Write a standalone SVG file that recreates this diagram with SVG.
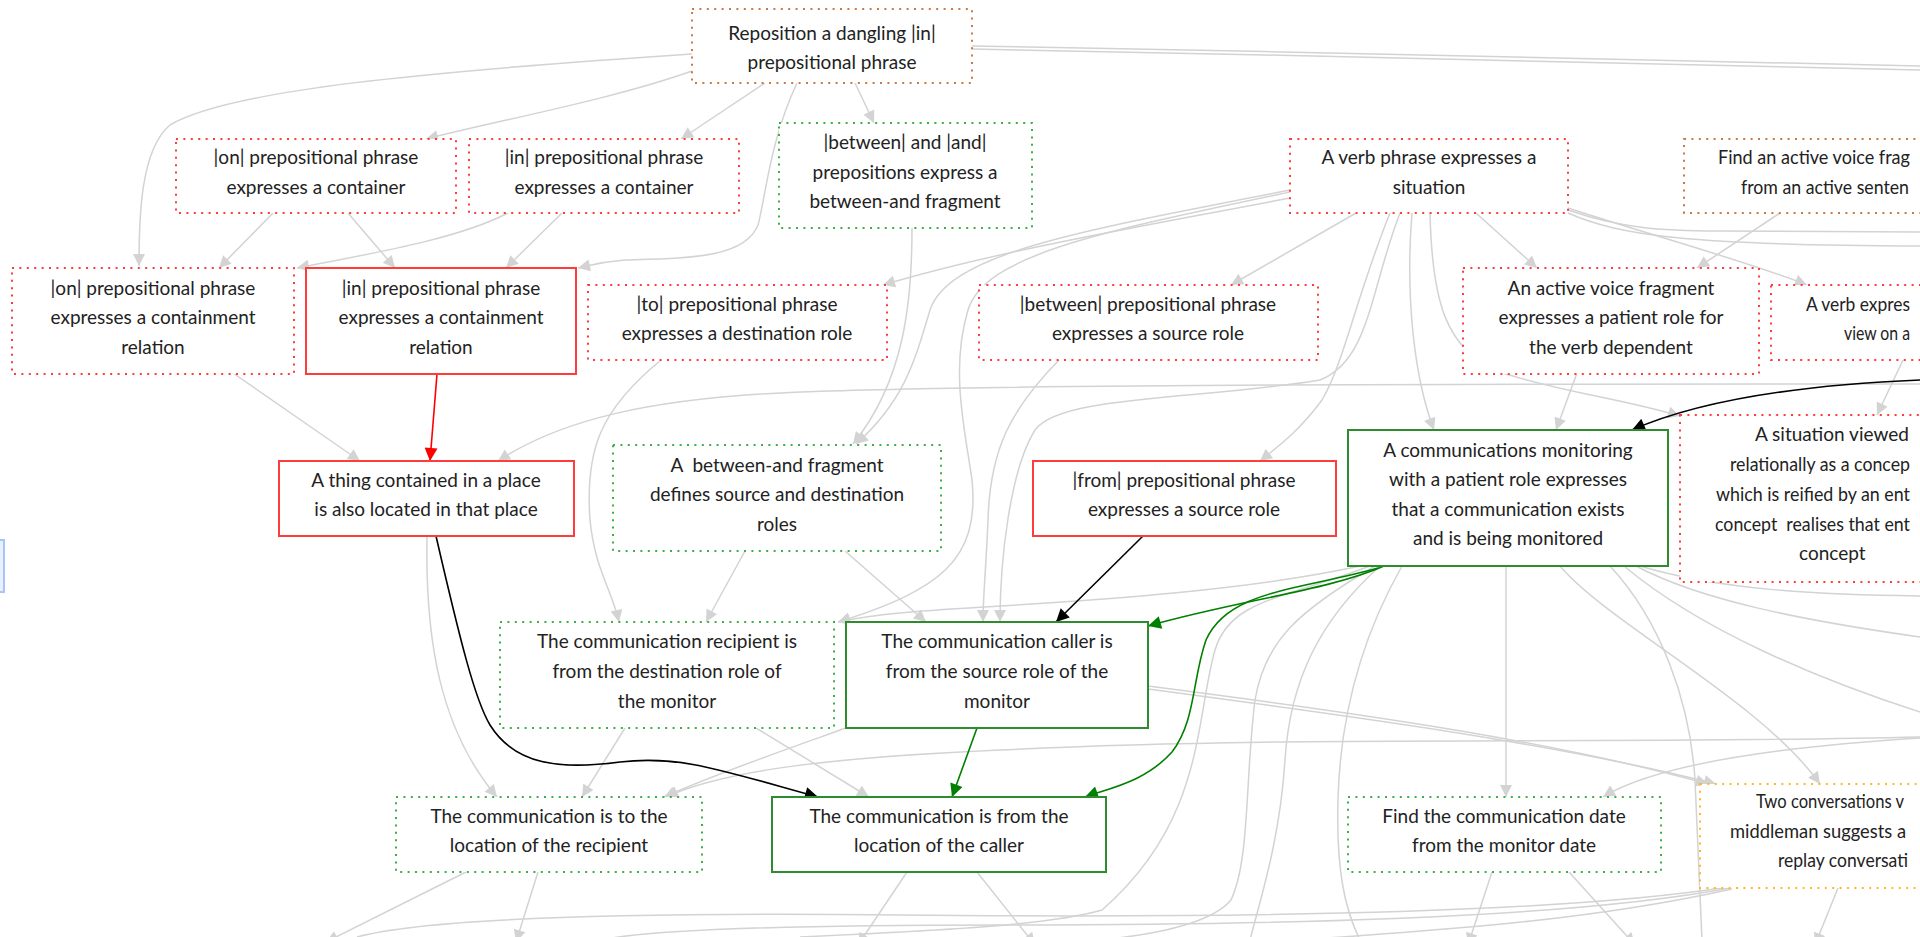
<svg xmlns="http://www.w3.org/2000/svg" width="1920" height="937" viewBox="0 0 1920 937">
  <defs>
    <marker id="ag" viewBox="0 0 10 10" refX="10" refY="5" markerUnits="userSpaceOnUse" markerWidth="17" markerHeight="12" orient="auto"><path d="M0,0 L10,5 L0,10 z" fill="#d3d3d3"/></marker>
    <marker id="ar" viewBox="0 0 10 10" refX="10" refY="5" markerUnits="userSpaceOnUse" markerWidth="18" markerHeight="13" orient="auto"><path d="M0,0 L10,5 L0,10 z" fill="#ff0000"/></marker>
    <marker id="ab" viewBox="0 0 10 10" refX="10" refY="5" markerUnits="userSpaceOnUse" markerWidth="18" markerHeight="13" orient="auto"><path d="M0,0 L10,5 L0,10 z" fill="#000000"/></marker>
    <marker id="agr" viewBox="0 0 10 10" refX="10" refY="5" markerUnits="userSpaceOnUse" markerWidth="18" markerHeight="13" orient="auto"><path d="M0,0 L10,5 L0,10 z" fill="#008000"/></marker>
    <style>
      .e { fill: none; stroke: #d3d3d3; stroke-width: 1.5; }
      .ea { marker-end: url(#ag); }
      .red { fill: none; stroke: #ff0000; stroke-width: 1.6; marker-end: url(#ar); }
      .blk { fill: none; stroke: #000000; stroke-width: 1.6; marker-end: url(#ab); }
      .grn { fill: none; stroke: #008000; stroke-width: 1.6; marker-end: url(#agr); }
      rect.b { fill: #ffffff; stroke-width: 2; }
      rect.dot { stroke-dasharray: 2 5.4; }
      .rd { stroke: #ff3b3b; }
      .gd { stroke: #3cb043; }
      .br { stroke: #c87a45; }
      .og { stroke: #ffb627; }
      .rs { stroke: #ff3b3b; }
      .gs { stroke: #2e8b2e; }
      text { font-family: Lato, "Open Sans", sans-serif; font-size: 19px; fill: #222222; text-anchor: middle; white-space: pre; }
      text.l { text-anchor: start; }
    </style>
  </defs>

  <!-- connectors -->
  <g id="connectors">
    <path class="e ea" d="M692,54 C420,72 230,90 170,125 C140,150 139,220 139,266"/>
    <path class="e ea" d="M692,71 C610,100 500,120 426,139"/>
    <path class="e ea" d="M765,83 L681,139"/>
    <path class="e ea" d="M797,83 C770,140 765,200 758,225 C745,258 690,258 625,260 C600,262 592,265 578,268"/>
    <path class="e ea" d="M855,83 L874,123"/>
    <path class="e" d="M972,46 C1300,52 1700,60 1920,66"/>
    <path class="e" d="M972,49 C1300,56 1700,63 1920,70"/>
    <path class="e ea" d="M273,213 L219,268"/>
    <path class="e ea" d="M348,213 L395,268"/>
    <path class="e ea" d="M508,213 C460,238 380,252 297,268"/>
    <path class="e ea" d="M562,213 L506,268"/>
    <path class="e ea" d="M912,228 C912,300 905,380 853,444"/>
    <path class="e ea" d="M1290,190 C1100,228 950,250 930,310 C915,360 905,400 856,444"/>
    <path class="e ea" d="M1290,198 C1150,225 1000,250 883,285"/>
    <path class="e ea" d="M1290,192 C1100,232 985,255 968,310 C950,370 965,430 972,480 C980,560 940,590 838,622"/>
    <path class="e ea" d="M1356,213 L1231,285"/>
    <path class="e ea" d="M1476,213 L1537,268"/>
    <path class="e ea" d="M1568,208 C1650,235 1750,262 1807,285"/>
    <path class="e" d="M1568,210 C1620,228 1660,231 1720,231 L1920,232"/>
    <path class="e" d="M1568,213 C1620,236 1690,245 1920,246"/>
    <path class="e ea" d="M1780,213 L1697,268"/>
    <path class="e ea" d="M1390,213 C1355,300 1345,360 1322,400 C1300,430 1280,445 1260,461"/>
    <path class="e ea" d="M1412,213 C1405,300 1415,380 1434,430"/>
    <path class="e ea" d="M1430,213 C1432,300 1445,350 1500,372 C1560,392 1620,398 1680,416"/>
    <path class="e ea" d="M1400,213 C1370,290 1370,360 1320,380 C1200,400 1060,395 1035,430 C1010,470 1000,560 1000,622"/>
    <path class="e ea" d="M1059,360 C1010,410 990,450 988,520 C986,570 983,595 983,622"/>
    <path class="e ea" d="M1577,373 L1556,430"/>
    <path class="e ea" d="M1903,360 L1877,415"/>
    <path class="e ea" d="M1920,384 C1500,384 1000,384 800,392 C650,398 560,420 498,461"/>
    <path class="e ea" d="M233,373 L360,461"/>
    <path class="e ea" d="M661,360 C600,410 585,450 590,520 C595,570 612,590 619,622"/>
    <path class="e ea" d="M745,551 L706,622"/>
    <path class="e ea" d="M845,551 L926,622"/>
    <path class="e ea" d="M1360,566 C1250,590 1100,600 1000,606 C920,611 880,613 838,622"/>
    <path class="e ea" d="M427,536 C425,640 440,730 497,797"/>
    <path class="e ea" d="M625,728 L582,797"/>
    <path class="e ea" d="M756,728 L869,797"/>
    <path class="e ea" d="M846,728 C790,748 720,772 664,797"/>
    <path class="e ea" d="M1920,737 C1600,745 1300,735 1000,750 C820,758 720,772 666,797"/>
    <path class="e ea" d="M1506,566 L1506,797"/>
    <path class="e ea" d="M1560,566 C1610,625 1760,700 1820,784"/>
    <path class="e ea" d="M1148,686 C1350,712 1550,740 1708,784"/>
    <path class="e ea" d="M1148,689 C1350,716 1560,744 1716,784"/>
    <path class="e ea" d="M1920,738 C1760,748 1650,768 1603,797"/>
    <path class="e ea" d="M466,872 L326,942"/>
    <path class="e ea" d="M538,872 L516,942"/>
    <path class="e ea" d="M907,872 L858,945"/>
    <path class="e ea" d="M977,872 L1035,945"/>
    <path class="e ea" d="M1492,872 L1468,945"/>
    <path class="e ea" d="M1569,872 L1635,945"/>
    <path class="e ea" d="M1838,888 L1815,945"/>
    <path class="e" d="M1728,887 C1550,915 1200,918 900,915 C600,912 420,920 357,937"/>
    <path class="e" d="M1730,888 C1560,920 1250,925 1000,925 C800,925 650,930 600,940"/>
    <path class="e" d="M1732,889 C1570,925 1400,932 1300,940"/>
    <path class="e" d="M1370,566 C1280,600 1230,600 1215,650 C1195,720 1205,820 1102,910 C1050,925 950,930 800,937"/>
    <path class="e" d="M1375,566 C1300,610 1265,640 1255,700 C1245,780 1250,860 1231,900 C1210,925 1150,935 1100,940"/>
    <path class="e" d="M1380,566 C1320,620 1290,680 1285,760 C1280,840 1260,900 1250,940"/>
    <path class="e" d="M1402,566 C1360,640 1340,720 1338,800 C1336,870 1345,910 1360,940"/>
    <path class="e" d="M1610,566 C1660,620 1690,700 1695,780 C1698,850 1700,900 1702,940"/>
    <path class="e" d="M1640,566 C1720,590 1820,595 1920,596"/>
    <path class="e" d="M1636,566 C1700,600 1800,620 1920,637"/>
    <path class="e" d="M1624,566 C1700,630 1820,680 1920,712"/>
    <path class="red" d="M437,374 L430,461"/>
    <path class="blk" d="M1143,536 L1056,622"/>
    <path class="blk" d="M436,536 C460,640 475,700 490,725 C515,765 560,770 620,762 C680,755 720,770 818,797"/>
    <path class="blk" d="M1920,380 C1800,385 1700,400 1632,430"/>
    <path class="grn" d="M1384,566 C1330,590 1240,600 1148,626"/>
    <path class="grn" d="M1378,568 C1300,590 1228,590 1206,640 C1192,680 1196,720 1172,752 C1145,782 1110,788 1085,797"/>
    <path class="grn" d="M977,728 L952,797"/>
  </g>

  <!-- partially visible panel at the left edge -->
  <rect x="-30" y="540" width="34" height="52" fill="#e8f0fe" stroke="#a8c4f8" stroke-width="2"/>

  <g id="n1"><rect class="b dot br" x="692" y="9" width="280" height="74"/><text x="832" y="40">Reposition a dangling |in|</text><text x="832" y="69">prepositional phrase</text></g>
  <g id="n2"><rect class="b dot rd" x="176" y="139" width="280" height="74"/><text x="316" y="164">|on| prepositional phrase</text><text x="316" y="194">expresses a container</text></g>
  <g id="n3"><rect class="b dot rd" x="469" y="139" width="270" height="74"/><text x="604" y="164">|in| prepositional phrase</text><text x="604" y="194">expresses a container</text></g>
  <g id="n4"><rect class="b dot gd" x="779" y="123" width="253" height="105"/><text x="905" y="149">|between| and |and|</text><text x="905" y="179">prepositions express a</text><text x="905" y="208">between-and fragment</text></g>
  <g id="n5"><rect class="b dot rd" x="1290" y="139" width="278" height="74"/><text x="1429" y="164">A verb phrase expresses a</text><text x="1429" y="194">situation</text></g>
  <g id="n6"><rect class="b dot br" x="1684" y="139" width="300" height="74"/><text class="l" x="1718" y="164" textLength="192" lengthAdjust="spacingAndGlyphs">Find an active voice frag</text><text class="l" x="1741" y="194" textLength="168" lengthAdjust="spacingAndGlyphs">from an active senten</text></g>
  <g id="n7"><rect class="b dot rd" x="12" y="268" width="282" height="106"/><text x="153" y="295">|on| prepositional phrase</text><text x="153" y="324">expresses a containment</text><text x="153" y="354">relation</text></g>
  <g id="n8"><rect class="b rs" x="306" y="268" width="270" height="106"/><text x="441" y="295">|in| prepositional phrase</text><text x="441" y="324">expresses a containment</text><text x="441" y="354">relation</text></g>
  <g id="n9"><rect class="b dot rd" x="588" y="285" width="299" height="75"/><text x="737" y="311">|to| prepositional phrase</text><text x="737" y="340">expresses a destination role</text></g>
  <g id="n10"><rect class="b dot rd" x="979" y="285" width="339" height="75"/><text x="1148" y="311">|between| prepositional phrase</text><text x="1148" y="340">expresses a source role</text></g>
  <g id="n11"><rect class="b dot rd" x="1463" y="268" width="296" height="106"/><text x="1611" y="295">An active voice fragment</text><text x="1611" y="324">expresses a patient role for</text><text x="1611" y="354">the verb dependent</text></g>
  <g id="n12"><rect class="b dot rd" x="1771" y="285" width="300" height="75"/><text class="l" x="1806" y="311" textLength="104" lengthAdjust="spacingAndGlyphs">A verb expres</text><text class="l" x="1844" y="340" textLength="66" lengthAdjust="spacingAndGlyphs">view on a</text></g>
  <g id="n13"><rect class="b rs" x="279" y="461" width="295" height="75"/><text x="426" y="487">A thing contained in a place</text><text x="426" y="516">is also located in that place</text></g>
  <g id="n14"><rect class="b dot gd" x="613" y="445" width="328" height="106"/><text x="777" y="472">A  between-and fragment</text><text x="777" y="501">defines source and destination</text><text x="777" y="531">roles</text></g>
  <g id="n15"><rect class="b rs" x="1033" y="461" width="303" height="75"/><text x="1184" y="487">|from| prepositional phrase</text><text x="1184" y="516">expresses a source role</text></g>
  <g id="n16"><rect class="b gs" x="1348" y="430" width="320" height="136"/><text x="1508" y="457">A communications monitoring</text><text x="1508" y="486">with a patient role expresses</text><text x="1508" y="516">that a communication exists</text><text x="1508" y="545">and is being monitored</text></g>
  <g id="n17"><rect class="b dot rd" x="1680" y="415" width="300" height="167"/><text class="l" x="1755" y="441">A situation viewed</text><text class="l" x="1730" y="471" textLength="180" lengthAdjust="spacingAndGlyphs">relationally as a concep</text><text class="l" x="1716" y="501" textLength="194" lengthAdjust="spacingAndGlyphs">which is reified by an ent</text><text class="l" x="1715" y="531" textLength="195" lengthAdjust="spacingAndGlyphs">concept  realises that ent</text><text class="l" x="1799" y="560">concept</text></g>
  <g id="n18"><rect class="b dot gd" x="500" y="622" width="334" height="106"/><text x="667" y="648">The communication recipient is</text><text x="667" y="678">from the destination role of</text><text x="667" y="708">the monitor</text></g>
  <g id="n19"><rect class="b gs" x="846" y="622" width="302" height="106"/><text x="997" y="648">The communication caller is</text><text x="997" y="678">from the source role of the</text><text x="997" y="708">monitor</text></g>
  <g id="n20"><rect class="b dot gd" x="396" y="797" width="306" height="75"/><text x="549" y="823">The communication is to the</text><text x="549" y="852">location of the recipient</text></g>
  <g id="n21"><rect class="b gs" x="772" y="797" width="334" height="75"/><text x="939" y="823">The communication is from the</text><text x="939" y="852">location of the caller</text></g>
  <g id="n22"><rect class="b dot gd" x="1348" y="797" width="313" height="75"/><text x="1504" y="823">Find the communication date</text><text x="1504" y="852">from the monitor date</text></g>
  <g id="n23"><rect class="b dot og" x="1700" y="784" width="300" height="104"/><text class="l" x="1756" y="808" textLength="148" lengthAdjust="spacingAndGlyphs">Two conversations v</text><text class="l" x="1730" y="838" textLength="176" lengthAdjust="spacingAndGlyphs">middleman suggests a</text><text class="l" x="1778" y="867" textLength="130" lengthAdjust="spacingAndGlyphs">replay conversati</text></g>
</svg>
